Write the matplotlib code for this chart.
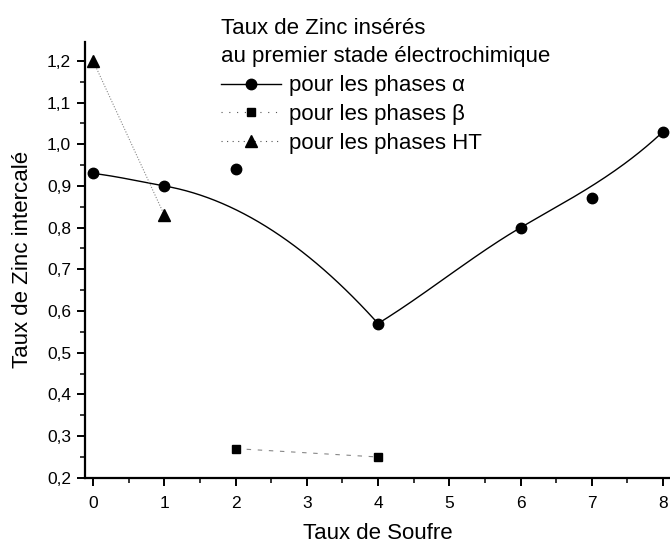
import numpy as np
import matplotlib.pyplot as plt
from matplotlib.ticker import MultipleLocator, FuncFormatter

# donnees
x_alpha = [0, 1, 2, 4, 6, 7, 8]
y_alpha = [0.93, 0.90, 0.94, 0.57, 0.80, 0.87, 1.03]
x_beta = [2, 4]
y_beta = [0.27, 0.25]
x_ht = [0, 1]
y_ht = [1.20, 0.83]

# points d'appui de la courbe lissee (alpha)
curve_x = [0, 1, 4, 6, 8]
curve_y = [0.93, 0.90, 0.57, 0.80, 1.03]
curve_slope_in = [-0.02, -0.03, -0.19, 0.10, 0.16]
curve_slope_out = [-0.02, -0.03, 0.105, 0.10, 0.16]

plt.rcParams['font.family'] = ['Liberation Sans', 'DejaVu Sans']

fig = plt.figure(figsize=(6.70, 5.43), dpi=100)
ax = fig.add_axes([0.127, 0.12, 0.873, 0.803])

# courbe hermite entre les points d'appui
cx, cy = [], []
for i in range(len(curve_x) - 1):
    x0, x1 = curve_x[i], curve_x[i + 1]
    y0, y1 = curve_y[i], curve_y[i + 1]
    h = x1 - x0
    m0, m1 = curve_slope_out[i], curve_slope_in[i + 1]
    t = np.linspace(0, 1, 60)
    h00 = 2 * t**3 - 3 * t**2 + 1
    h10 = t**3 - 2 * t**2 + t
    h01 = -2 * t**3 + 3 * t**2
    h11 = t**3 - t**2
    cx.extend(x0 + t * h)
    cy.extend(h00 * y0 + h10 * h * m0 + h01 * y1 + h11 * h * m1)
ax.plot(cx, cy, color='black', lw=1.0)

ax.plot(x_alpha, y_alpha, 'o', color='black', ms=7.5)
ax.plot(x_beta, y_beta, color='#888888', lw=0.8, ls=(0, (4, 6)))
ax.plot(x_beta, y_beta, 's', color='black', ms=6)
ax.plot(x_ht, y_ht, color='#888888', lw=0.8, ls=(0, (1, 1.5)))
ax.plot(x_ht, y_ht, '^', color='black', ms=8)

# legende
h1, = ax.plot([], [], '-o', color='black', ms=7.5, lw=1.0)
h2, = ax.plot([], [], 's', color='#555555', mfc='black', mec='black', ms=6, ls=(0, (1, 6)), lw=0.8)
h3, = ax.plot([], [], '^', color='#555555', mfc='black', mec='black', ms=8, ls=(0, (1, 4)), lw=0.8)
leg = fig.legend([h1, h2, h3],
                 ['pour les phases \u03b1', 'pour les phases \u03b2', 'pour les phases HT'],
                 title='Taux de Zinc ins\u00e9r\u00e9s\nau premier stade \u00e9lectrochimique',
                 loc='upper left', bbox_to_anchor=(0.330, 0.967), frameon=False,
                 fontsize=16, title_fontsize=16, alignment='left',
                 handlelength=2.7, handletextpad=0.35, labelspacing=0.34,
                 borderpad=0.0, borderaxespad=0.0)
leg.get_title().set_linespacing(1.45)
leg._legend_box.sep = 6

ax.set_xlim(-0.112, 8.098)
ax.set_ylim(0.2, 1.2456)
ax.spines['top'].set_visible(False)
ax.spines['right'].set_visible(False)
ax.spines['left'].set_linewidth(1.6)
ax.spines['bottom'].set_linewidth(1.6)

ax.xaxis.set_major_locator(MultipleLocator(1))
ax.xaxis.set_minor_locator(MultipleLocator(0.5))
ax.yaxis.set_major_locator(MultipleLocator(0.1))
ax.yaxis.set_minor_locator(MultipleLocator(0.05))
ax.yaxis.set_major_formatter(FuncFormatter(lambda v, p: f'{v:.1f}'.replace('.', ',')))
ax.tick_params(which='major', length=6, width=1.4, labelsize=12.5, pad=4)
ax.tick_params(axis='x', which='major', pad=7)
ax.tick_params(which='minor', length=3.5, width=1.1)

ax.set_xlabel('Taux de Soufre', fontsize=16, labelpad=9)
ax.set_ylabel('Taux de Zinc intercal\u00e9', fontsize=16, labelpad=10)

fig.savefig('out.png', dpi=100)
